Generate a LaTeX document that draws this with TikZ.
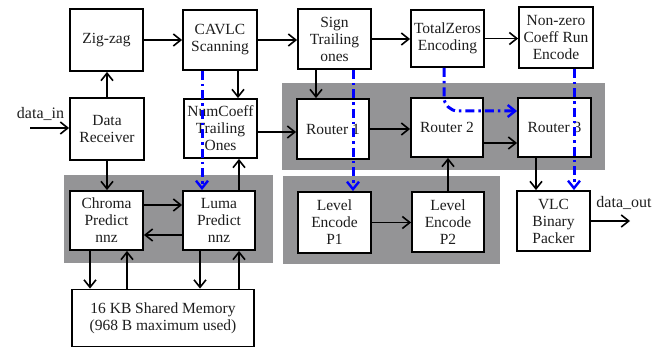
\documentclass[tikz,border=0pt]{standalone}
\usepackage{fontspec}
\setmainfont{Liberation Serif}
\usetikzlibrary{arrows.meta}
\definecolor{panel}{RGB}{148,148,150}
\definecolor{txt}{RGB}{30,30,30}
\definecolor{bl}{RGB}{0,0,255}
\begin{document}
\begin{tikzpicture}[x=1pt,y=-1pt,
  box/.style={draw=black, line width=1.8pt, fill=white, align=center, inner sep=1pt,
    text=txt, font=\fontsize{15.5}{17}\selectfont},
  lbl/.style={text=txt, font=\fontsize{16}{17}\selectfont, inner sep=0pt},
  arr/.style={draw=black, line width=1.6pt, -{Straight Barb[length=7.5pt,width=12pt,line width=1.6pt]}},
  barr/.style={draw=bl, line width=3pt, dash pattern=on 9pt off 4pt on 2.5pt off 4pt,
    -{Straight Barb[length=7.5pt,width=12pt,line width=2.4pt]}},
  panelbox/.style={fill=panel, draw=none}]
\useasboundingbox (0,0) rectangle (667,350);
% gray panels
\path[panelbox] (282,83) rectangle (605,170);
\path[panelbox] (64,175) rectangle (273,263);
\path[panelbox] (283,176) rectangle (500,264);
% boxes
\node[box, minimum width=73pt, minimum height=62pt] (zz) at (106.5,40) {Zig-zag};
\node[box, minimum width=74pt, minimum height=60pt] (cavlc) at (220,40) {CAVLC\\Scanning};
\node[box, minimum width=73pt, minimum height=60pt] (sign) at (334.5,39) {Sign\\Trailing\\ones};
\node[box, minimum width=73pt, minimum height=57pt] (tz) at (447.5,38.5) {TotalZeros\\Encoding};
\node[box, minimum width=74pt, minimum height=61pt] (nz) at (556,37.5) {Non-zero\\Coeff Run\\Encode};
\node[box, minimum width=74pt, minimum height=62pt] (dr) at (107,129) {Data\\Receiver};
\node[box, minimum width=73pt, minimum height=59pt] (nc) at (220.5,128.5) {NumCoeff\\Trailing\\Ones};
\node[box, minimum width=72pt, minimum height=60pt] (r1) at (333,129) {Router 1};
\node[box, minimum width=72pt, minimum height=59pt] (r2) at (447,127.5) {Router 2};
\node[box, minimum width=73pt, minimum height=59pt] (r3) at (554.5,127.5) {Router 3};
\node[box, minimum width=73pt, minimum height=59pt] (ch) at (106.5,220.5) {Chroma\\Predict\\nnz};
\node[box, minimum width=72pt, minimum height=59pt] (lu) at (219,220.5) {Luma\\Predict\\nnz};
\node[box, minimum width=182pt, minimum height=57pt] (mem) at (163,318) {16 KB Shared Memory\\(968 B maximum used)};
\node[box, minimum width=73pt, minimum height=61pt] (p1) at (334.5,222.5) {Level\\Encode\\P1};
\node[box, minimum width=72pt, minimum height=60pt] (p2) at (448,222) {Level\\Encode\\P2};
\node[box, minimum width=73pt, minimum height=60pt] (vlc) at (553.5,221) {VLC\\Binary\\Packer};
% labels
\node[lbl] (dinl) at (40.5,114) {data\_in};
\node[lbl] (doutl) at (624,203) {data\_out};
\coordinate (din) at (30,128);
\coordinate (dout) at (630,221);
% black arrows
\draw[arr] (din) -- (din -| dr.west);
\draw[arr] (zz.east) -- (cavlc.west);
\draw[arr] (cavlc.east) -- (cavlc.east -| sign.west);
\draw[arr] (sign.east) -- (sign.east -| tz.west);
\draw[arr] (tz.east) -- (tz.east -| nz.west);
\draw[arr] (dr.north) -- (dr.north |- zz.south);
\draw[arr] ([xshift=18pt]cavlc.south) -- ([xshift=18pt]cavlc.south |- nc.north);
\draw[arr] ([yshift=-3.5pt]nc.east) -- ([yshift=-3.5pt]nc.east -| r1.west);
\draw[arr] ([xshift=-18.5pt]sign.south) -- ([xshift=-18.5pt]sign.south |- r1.north);
\draw[arr] (r1.east) -- (r1.east -| r2.west);
\draw[arr] ([yshift=-15.5pt]r2.east) -- ([yshift=-15.5pt]r2.east -| r3.west);
\draw[arr] (dr.south) -- (dr.south |- ch.north);
\draw[arr] ([xshift=20pt]lu.north) -- ([xshift=20pt]lu.north |- nc.south);
\draw[arr] ([yshift=15.5pt]ch.east) -- ([yshift=15.5pt]ch.east -| lu.west);
\draw[arr] ([yshift=-14.5pt]lu.west) -- ([yshift=-14.5pt]lu.west -| ch.east);
\draw[arr] ([xshift=-16.5pt]ch.south) -- ([xshift=-16.5pt]ch.south |- mem.north);
\draw[arr] ([xshift=20.5pt]ch.south |- mem.north) -- ([xshift=20.5pt]ch.south);
\draw[arr] ([xshift=-19pt]lu.south) -- ([xshift=-19pt]lu.south |- mem.north);
\draw[arr] ([xshift=20pt]lu.south |- mem.north) -- ([xshift=20pt]lu.south);
\draw[arr] ([xshift=-18.5pt]r3.south) -- ([xshift=-18.5pt]r3.south |- vlc.north);
\draw[arr] (p2.north) -- (p2.north |- r2.south);
\draw[arr] (p1.east) -- (p1.east -| p2.west);
\draw[arr] (vlc.east) -- (vlc.east -| dout);
% blue dash-dot arrows
\draw[barr] ([xshift=-18pt]cavlc.south) -- ([xshift=-18pt]cavlc.south |- lu.north);
\draw[barr] ([xshift=18.5pt]sign.south) -- ([xshift=18.5pt]sign.south |- p1.north);
\draw[barr, rounded corners=14pt] ([xshift=-3.5pt]tz.south) |- ([yshift=16.5pt]r3.west);
\draw[barr] ([xshift=18pt]nz.south) -- ([xshift=18pt]nz.south |- vlc.north);
\end{tikzpicture}
\end{document}
